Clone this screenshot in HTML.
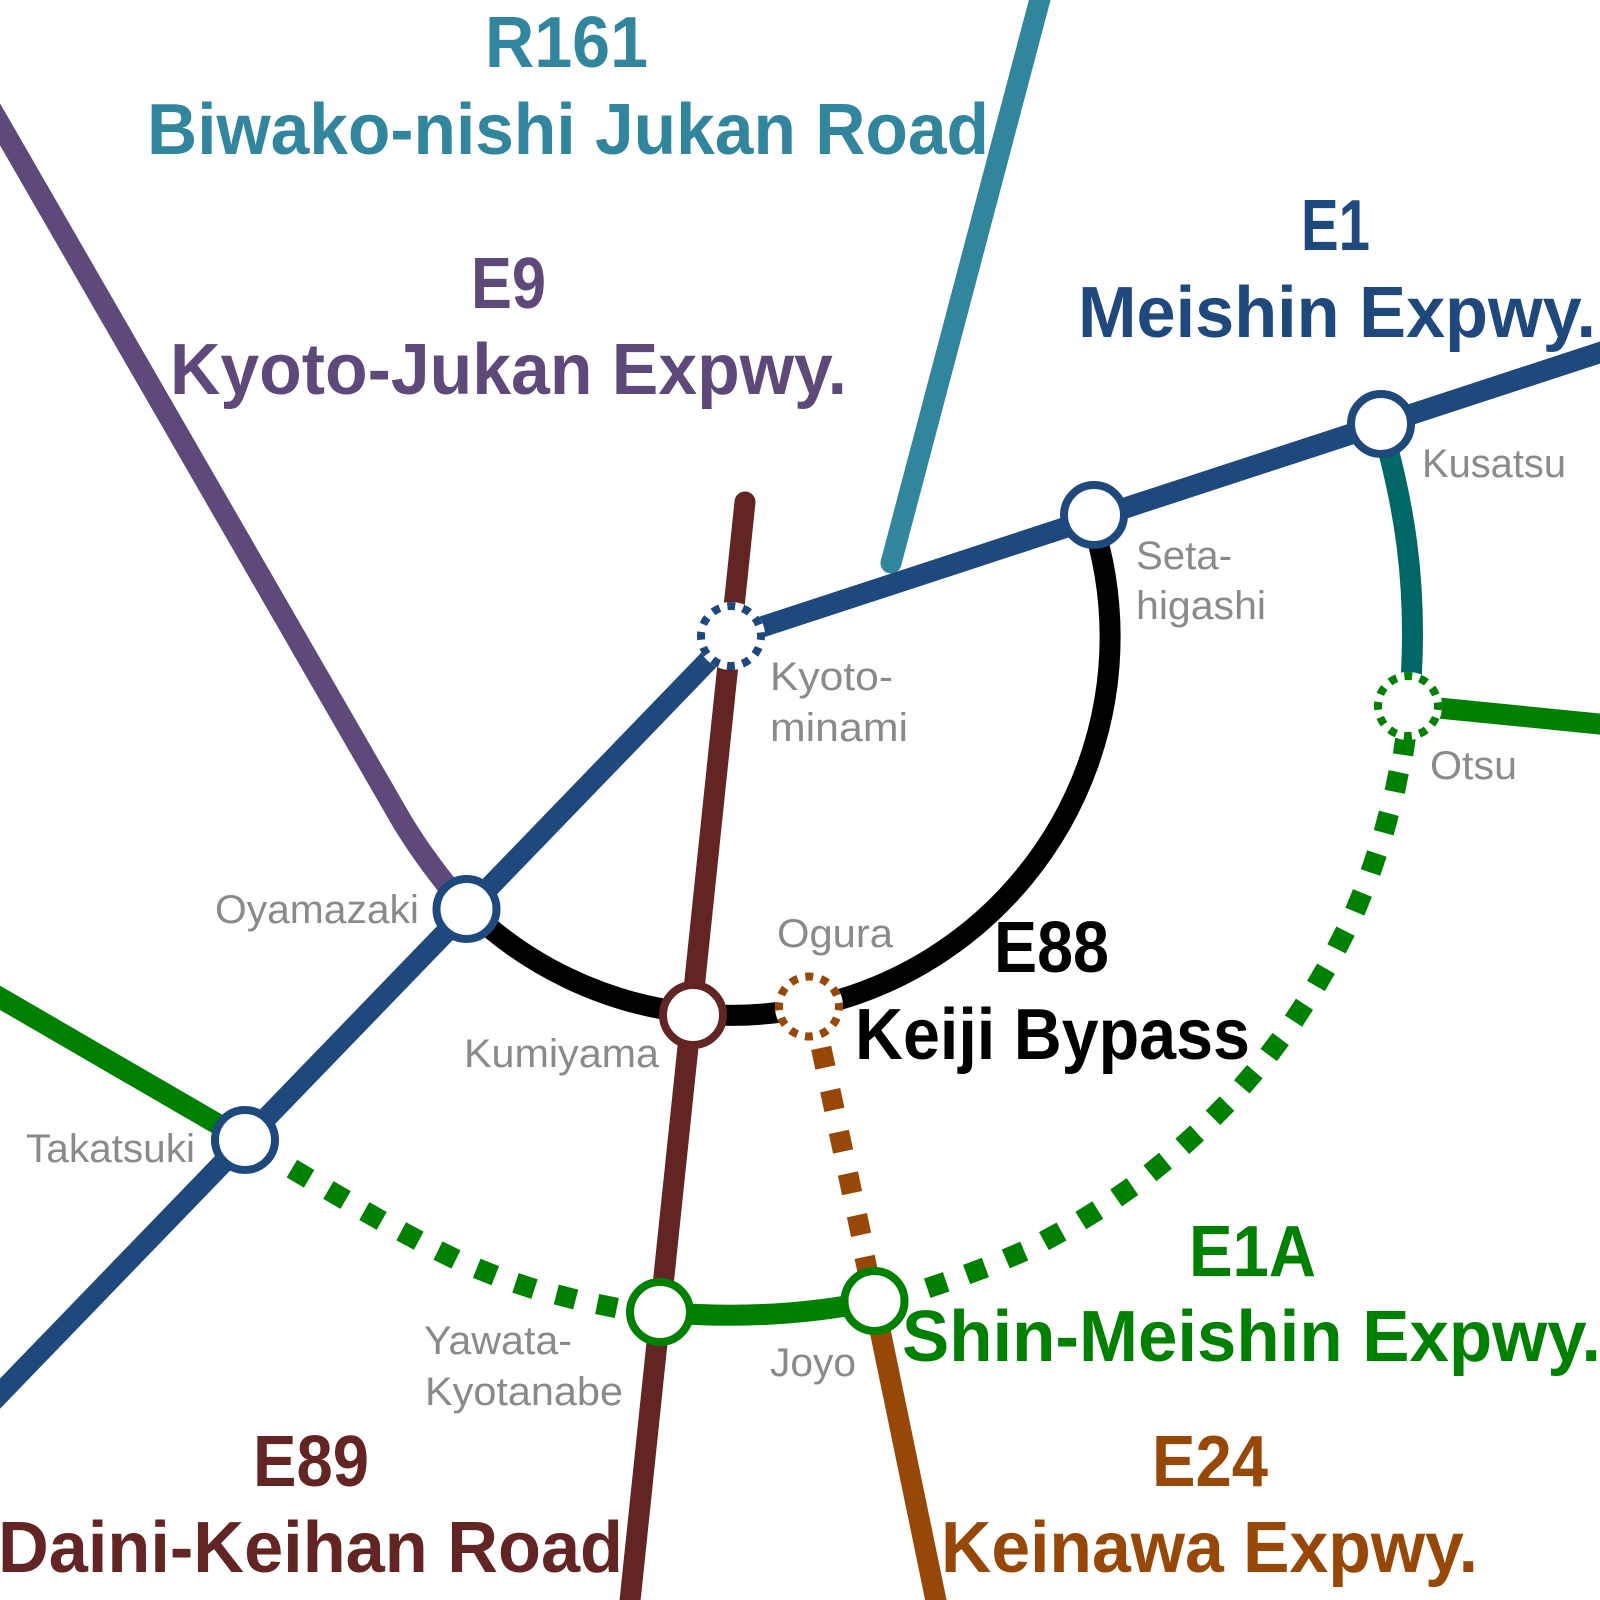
<!DOCTYPE html>
<html><head><meta charset="utf-8"><style>
html,body{margin:0;padding:0;background:#fff}
svg{display:block}
.t{font-family:"Liberation Sans",sans-serif;font-weight:700;font-size:72px}
.s{font-family:"Liberation Sans",sans-serif;font-size:40px;fill:#8a8a8a}
</style></head><body>
<svg xmlns="http://www.w3.org/2000/svg" width="1600" height="1600" viewBox="0 0 1600 1600">
<rect width="1600" height="1600" fill="#fff"/>
<g fill="none" stroke-width="21">
<path d="M1045,-20L891,563" stroke="#31859C" stroke-linecap="round"/>
<path d="M-10,107L398,814.5C416,846 440,878 466.5,909" stroke="#5F497A"/>
<path d="M745,502L628,1620" stroke="#632523" stroke-linecap="round"/>
<path d="M467.5,907.9A378.5,378.5 0 0 0 1090.4,516.2" stroke="#000"/>
<path d="M-10,1404L731,637L1620,346" stroke="#1F497D"/>
<path d="M1381,423C1400,490 1421,580 1409,706" stroke="#006666"/>
<path d="M-10,992L245,1140M660,1312Q770,1322 874,1301M1408,705L1620,726" stroke="#008000"/>
<path d="M874,1301L940,1620" stroke="#974806"/>
<g stroke-width="20.5">
<path stroke="#974806" d="M821.2,1047.9L825.4,1067.5M830.2,1090.2L834.4,1109.8M838.9,1131.9L843.1,1151.5M847.9,1173.5L852.1,1193.1M856.9,1215.2L861.1,1234.8M864.6,1256.9L868.8,1276.5"/>
<path stroke="#008000" d="M291.9,1168.6L309.1,1178.8M328.4,1190L345.6,1200M364.3,1211.1L381.7,1220.9M401.2,1231.3L418.8,1240.7M438,1250.6L456,1259.4M476.7,1268.3L495.3,1275.7M515.5,1282.9L534.5,1289.1M556.3,1294.5L575.7,1299.5M597.2,1304L616.8,1308"/>
<path stroke="#008000" d="M927.2,1288.2L946.2,1281.8M966.6,1274.5L985.4,1267.5M1005.8,1258.9L1024.2,1251.1M1043.9,1241.1L1061.5,1231.5M1080.8,1220.6L1097.8,1210M1116.1,1198L1132.5,1186.6M1149.9,1173.3L1165.5,1160.7M1182.3,1146.4L1197.1,1133M1213,1117.8L1227,1103.6M1241.8,1086.9L1254.8,1071.7M1268.7,1055L1280.7,1039M1293.5,1021.1L1304.5,1004.3M1316,986L1326,968.6M1336.5,948.9L1345.5,931.1M1354.9,911.6L1362.5,893M1370.5,872.5L1376.9,853.5M1383.7,832.7L1388.9,813.3M1394.7,791.8L1398.7,772.2M1403,754.9L1406,735.1"/>
</g>
</g>
<g fill="#fff" stroke-width="8">
<circle cx="1381" cy="424" r="30" stroke="#1F497D"/>
<circle cx="1094" cy="515" r="30" stroke="#1F497D"/>
<circle cx="466.5" cy="909" r="30" stroke="#1F497D"/>
<circle cx="245" cy="1140" r="30" stroke="#1F497D"/>
<circle cx="693" cy="1015" r="30" stroke="#632523"/>
<circle cx="660" cy="1312" r="30" stroke="#008000"/>
<circle cx="874.5" cy="1301" r="30" stroke="#008000"/>
<g stroke="#fff"><circle cx="731" cy="636" r="30"/><circle cx="809" cy="1006.5" r="30"/><circle cx="1408" cy="706" r="30"/></g>
<g fill="none" stroke-dasharray="7.854 7.854" stroke-dashoffset="3.9">
<circle cx="731" cy="636" r="30" stroke="#1F497D"/>
<circle cx="809" cy="1006.5" r="30" stroke="#974806"/>
<circle cx="1408" cy="706" r="30" stroke="#008000"/>
</g>
</g>
<g>
<text class="t" fill="#31859C" x="485" y="67" textLength="163" lengthAdjust="spacingAndGlyphs">R161</text>
<text class="t" fill="#31859C" x="147" y="154" textLength="842" lengthAdjust="spacingAndGlyphs">Biwako-nishi Jukan Road</text>
<text class="t" fill="#5F497A" x="471" y="308" textLength="75" lengthAdjust="spacingAndGlyphs">E9</text>
<text class="t" fill="#5F497A" x="170" y="394" textLength="677" lengthAdjust="spacingAndGlyphs">Kyoto-Jukan Expwy.</text>
<text class="t" fill="#1F497D" x="1301" y="250" textLength="69" lengthAdjust="spacingAndGlyphs">E1</text>
<text class="t" fill="#1F497D" x="1078" y="337" textLength="518" lengthAdjust="spacingAndGlyphs">Meishin Expwy.</text>
<text class="t" fill="#000" x="994" y="972" textLength="115" lengthAdjust="spacingAndGlyphs">E88</text>
<text class="t" fill="#000" x="855" y="1059" textLength="395" lengthAdjust="spacingAndGlyphs">Keiji Bypass</text>
<text class="t" fill="#008000" x="1189" y="1276" textLength="127" lengthAdjust="spacingAndGlyphs">E1A</text>
<text class="t" fill="#008000" x="902" y="1361" textLength="699" lengthAdjust="spacingAndGlyphs">Shin-Meishin Expwy.</text>
<text class="t" fill="#632523" x="253" y="1486" textLength="116" lengthAdjust="spacingAndGlyphs">E89</text>
<text class="t" fill="#632523" x="-2" y="1572" textLength="625" lengthAdjust="spacingAndGlyphs">Daini-Keihan Road</text>
<text class="t" fill="#974806" x="1152" y="1486" textLength="116" lengthAdjust="spacingAndGlyphs">E24</text>
<text class="t" fill="#974806" x="941" y="1572" textLength="537" lengthAdjust="spacingAndGlyphs">Keinawa Expwy.</text>
</g>
<g>
<text class="s" x="1422" y="477" textLength="144" lengthAdjust="spacingAndGlyphs">Kusatsu</text>
<text class="s" x="1136" y="569" textLength="96" lengthAdjust="spacingAndGlyphs">Seta-</text>
<text class="s" x="1136" y="619" textLength="130" lengthAdjust="spacingAndGlyphs">higashi</text>
<text class="s" x="770" y="690" textLength="123" lengthAdjust="spacingAndGlyphs">Kyoto-</text>
<text class="s" x="770" y="741" textLength="138" lengthAdjust="spacingAndGlyphs">minami</text>
<text class="s" x="215" y="923" textLength="204" lengthAdjust="spacingAndGlyphs">Oyamazaki</text>
<text class="s" x="777" y="947" textLength="116" lengthAdjust="spacingAndGlyphs">Ogura</text>
<text class="s" x="464" y="1067" textLength="195" lengthAdjust="spacingAndGlyphs">Kumiyama</text>
<text class="s" x="26" y="1162" textLength="169" lengthAdjust="spacingAndGlyphs">Takatsuki</text>
<text class="s" x="1430" y="779" textLength="87" lengthAdjust="spacingAndGlyphs">Otsu</text>
<text class="s" x="424" y="1354" textLength="148" lengthAdjust="spacingAndGlyphs">Yawata-</text>
<text class="s" x="425" y="1405" textLength="198" lengthAdjust="spacingAndGlyphs">Kyotanabe</text>
<text class="s" x="770" y="1376" textLength="86" lengthAdjust="spacingAndGlyphs">Joyo</text>
</g>
</svg>
</body></html>
